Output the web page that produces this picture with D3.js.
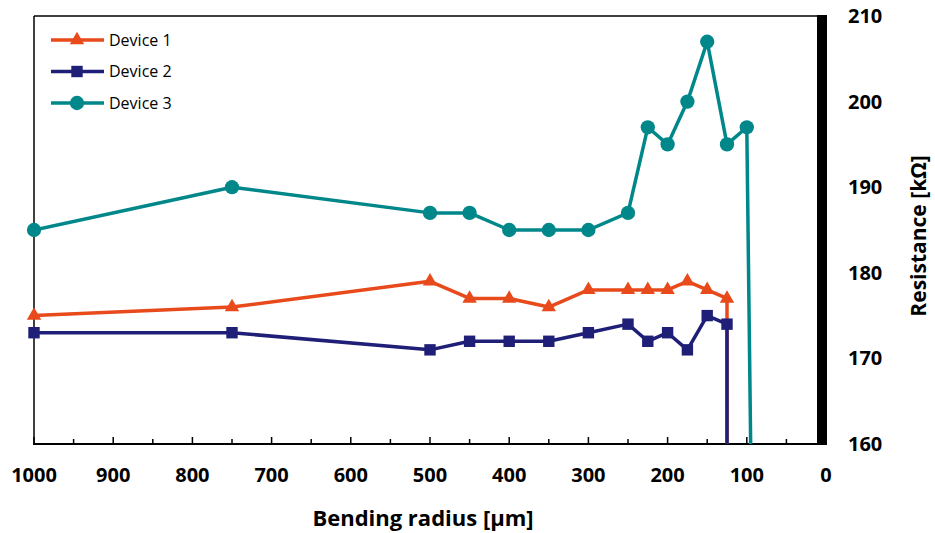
<!DOCTYPE html>
<html><head><meta charset="utf-8">
<script src="https://cdn.jsdelivr.net/npm/d3@7"></script>
<style>body{margin:0;background:#fff;} svg{display:block;}</style>
</head><body>
<svg id="chart" width="935" height="533"></svg>
<script>
const radius1 = [1000, 750, 500, 450, 400, 350, 300, 250, 225, 200, 175, 150, 125, 124];
const device1 = [175, 176, 179, 177, 177, 176, 178, 178, 178, 178, 179, 178, 177, 0];
const radius2 = [1000, 750, 500, 450, 400, 350, 300, 250, 225, 200, 175, 150, 125, 125];
const device2 = [173, 173, 171, 172, 172, 172, 173, 174, 172, 173, 171, 175, 174, 0];
const radius3 = [1000, 750, 500, 450, 400, 350, 300, 250, 225, 200, 175, 150, 125, 100, 74];
const device3 = [185, 190, 187, 187, 185, 185, 185, 187, 197, 195, 200, 207, 195, 197, 0];
const seriesNames = ["Device 1", "Device 2", "Device 3"];
const xTicks = [1000, 900, 800, 700, 600, 500, 400, 300, 200, 100, 0];
const yTicks = [160, 170, 180, 190, 200, 210];
const xTitle = "Bending radius [µm]";
const yTitle = "Resistance [kΩ]";

const colors = ["#E84A1B", "#1F1F78", "#00878A"];
const symbols = [d3.symbolTriangle, d3.symbolSquare, d3.symbolCircle];
const symSizes = [90, 130, 160];
const series = [
  {name: seriesNames[0], x: radius1, y: device1},
  {name: seriesNames[1], x: radius2, y: device2},
  {name: seriesNames[2], x: radius3, y: device3}
];

const svg = d3.select("#chart");
const L = 34, R = 826, T = 16, B = 444;
const x = d3.scaleLinear().domain([1000, 0]).range([L, R]);
const y = d3.scaleLinear().domain([160, 210]).range([B, T]);

svg.append("defs").append("clipPath").attr("id", "clip")
  .append("rect").attr("x", L).attr("y", T).attr("width", R - L).attr("height", B - T);

// frame: top and left
svg.append("line").attr("x1", L).attr("x2", 818).attr("y1", T).attr("y2", T).attr("stroke", "#000").attr("stroke-width", 1.5);
svg.append("line").attr("x1", L).attr("x2", L).attr("y1", T).attr("y2", B).attr("stroke", "#000").attr("stroke-width", 1.5);

// x axis
const xAxisG = svg.append("g").attr("transform", `translate(0,${B})`);
xAxisG.append("line").attr("x1", L - 1).attr("x2", R).attr("stroke", "#000").attr("stroke-width", 2);
const minor = d3.range(0, 1001, 50);
xAxisG.selectAll("line.tk").data(minor).join("line").attr("class", "tk")
  .attr("x1", d => x(d)).attr("x2", d => x(d))
  .attr("y1", 0).attr("y2", d => d % 100 === 0 ? -7 : -5)
  .attr("stroke", "#000").attr("stroke-width", 1.5);
xAxisG.selectAll("text").data(xTicks).join("text")
  .attr("x", d => x(d)).attr("y", 38)
  .attr("text-anchor", "middle")
  .attr("font-family", "Open Sans, sans-serif").attr("font-weight", "bold").attr("font-size", 20)
  .text(d => d);

// right axis (thick bar)
svg.append("rect").attr("x", 817).attr("y", T - 1).attr("width", 10).attr("height", B - T + 2).attr("fill", "#000");
svg.selectAll("text.yl").data(yTicks).join("text").attr("class", "yl")
  .attr("x", 848).attr("y", d => y(d)).attr("dy", "0.35em")
  .attr("font-family", "Open Sans, sans-serif").attr("font-weight", "bold").attr("font-size", 20)
  .text(d => d);

// titles
svg.append("text").attr("x", 423).attr("y", 526).attr("text-anchor", "middle")
  .attr("font-family", "Open Sans, sans-serif").attr("font-weight", "bold").attr("font-size", 22)
  .text(xTitle);
svg.append("text").attr("transform", `translate(926,236) rotate(-90)`).attr("text-anchor", "middle")
  .attr("font-family", "Open Sans, sans-serif").attr("font-weight", "bold").attr("font-size", 21)
  .text(yTitle);

// lines
const plot = svg.append("g").attr("clip-path", "url(#clip)");
const markers = svg.append("g");
const line = d3.line().x(d => x(d[0])).y(d => y(d[1]));
series.forEach((s, i) => {
  const pts = s.x.map((v, j) => [v, s.y[j]]);
  plot.append("path").datum(pts).attr("d", line)
    .attr("fill", "none").attr("stroke", colors[i]).attr("stroke-width", 3.5).attr("stroke-linejoin", "round");
  markers.selectAll(null).data(pts.filter(p => p[1] >= 160)).join("path")
    .attr("transform", p => `translate(${x(p[0])},${y(p[1])})`)
    .attr("d", d3.symbol().type(symbols[i]).size(symSizes[i]))
    .attr("fill", colors[i]);
});

// legend
const lg = svg.append("g");
series.forEach((s, i) => {
  const ly = 40 + i * 31.5;
  lg.append("line").attr("x1", 51).attr("x2", 104).attr("y1", ly).attr("y2", ly)
    .attr("stroke", colors[i]).attr("stroke-width", 3.5);
  lg.append("path").attr("transform", `translate(77,${ly})`)
    .attr("d", d3.symbol().type(symbols[i]).size(symSizes[i])).attr("fill", colors[i]);
  lg.append("text").attr("x", 109).attr("y", ly).attr("dy", "0.35em")
    .attr("font-family", "Open Sans, sans-serif").attr("font-size", 16).text(s.name);
});
</script>
</body></html>
